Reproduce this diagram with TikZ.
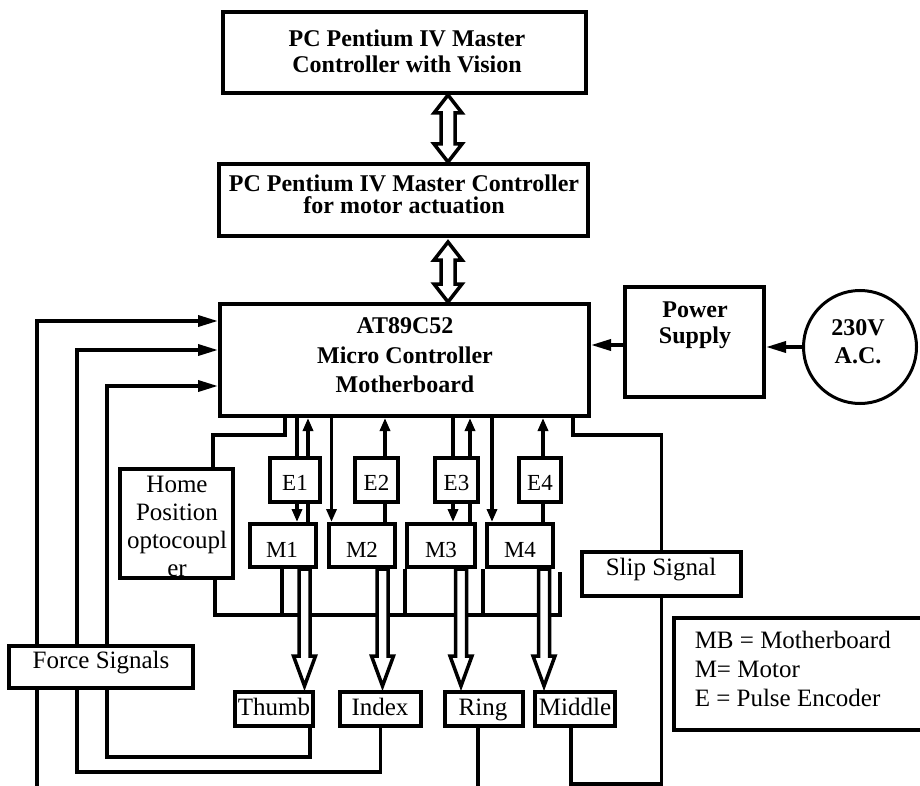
\documentclass[tikz,border=0pt]{standalone}
\usepackage{fontspec}
\setmainfont{Liberation Serif}
\usetikzlibrary{arrows.meta,calc}

% hollow double-headed arrow between two points (vertical)
\newcommand\hollowdouble[2]{%
  \path[hollow] let \p1=(#1), \p2=(#2) in
    (\x1,\y1) -- (\x1+14pt,\y1-18pt) -- (\x1+7pt,\y1-18pt) -- (\x1+7pt,\y2+18pt)
    -- (\x1+14pt,\y2+18pt) -- (\x1,\y2) -- (\x1-14pt,\y2+18pt) -- (\x1-7pt,\y2+18pt)
    -- (\x1-7pt,\y1-18pt) -- (\x1-14pt,\y1-18pt) -- cycle;}
% hollow downward arrow from a motor to a finger
\newcommand\hollowdown[2]{%
  \path[hollow] let \p1=(#1), \p2=(#2) in
    (\x1-5.5pt,\y1) -- (\x1-5.5pt,\y2+34pt) -- (\x1-11pt,\y2+34pt) -- (\x1,\y2+4pt)
    -- (\x1+11pt,\y2+34pt) -- (\x1+5.5pt,\y2+34pt) -- (\x1+5.5pt,\y1) -- cycle;}

\begin{document}
\begin{tikzpicture}[x=1pt,y=-1pt,
  line width=3.5pt,
  box/.style={draw, rectangle, line width=4pt, inner sep=0pt},
  hollow/.style={draw, fill=white, line width=3.5pt},
  btxt/.style={font=\fontsize{24}{28}\selectfont\bfseries, inner sep=0pt, anchor=base},
  rtxt/.style={font=\fontsize{25}{28}\selectfont, inner sep=0pt, anchor=base},
  stxt/.style={font=\fontsize{23}{26}\selectfont, inner sep=0pt, anchor=base},
  arrL/.style={-{Triangle[length=20pt,width=11pt]}},
  arrS/.style={-{Triangle[length=13pt,width=10pt]}}]
\clip (0,0) rectangle (920,786);

% ---- upper controllers ----
\node[box, minimum width=363pt, minimum height=81pt] (pcv) at (404.5,52.5) {};
\node[btxt] (pcv1) at (407,47) {PC Pentium IV Master};
\node[btxt] (pcv2) at (407,73) {Controller with Vision};

\node[box, minimum width=369pt, minimum height=72pt] (pcm) at (403.5,200) {};
\node[btxt] (pcm1) at (404,192) {PC Pentium IV Master Controller};
\node[btxt] (pcm2) at (404,214) {for motor actuation};

% ---- motherboard, supply ----
\node[box, minimum width=369pt, minimum height=112pt] (mb) at (404.5,360) {};
\node[btxt] (mb1) at (405,333) {AT89C52};
\node[btxt] (mb2) at (405,363) {Micro Controller};
\node[btxt] (mb3) at (405,392) {Motherboard};

\node[box, minimum width=139pt, minimum height=110pt] (ps) at (694.5,342) {};
\node[btxt] (ps1) at (695,317) {Power};
\node[btxt] (ps2) at (695,343) {Supply};

\node[draw, circle, line width=3pt, minimum size=113pt, inner sep=0pt] (ac) at (860,347) {};
\node[btxt] (ac1) at (858,335) {230V};
\node[btxt] (ac2) at (858,363) {A.C.};

% ---- encoders and motors ----
\node[box, minimum width=50pt, minimum height=44pt] (e1) at (295,480) {};
\node[box, minimum width=43pt, minimum height=44pt] (e2) at (376.5,480) {};
\node[box, minimum width=43pt, minimum height=44pt] (e3) at (456.5,480) {};
\node[box, minimum width=42pt, minimum height=44pt] (e4) at (540,480) {};
\node[stxt] (e1t) at (295,490) {E1};
\node[stxt] (e2t) at (376.5,490) {E2};
\node[stxt] (e3t) at (456.5,490) {E3};
\node[stxt] (e4t) at (540,490) {E4};

\node[box, minimum width=66pt, minimum height=43pt] (m1) at (283,545.5) {};
\node[box, minimum width=66pt, minimum height=43pt] (m2) at (362,545.5) {};
\node[box, minimum width=68pt, minimum height=43pt] (m3) at (441,545.5) {};
\node[box, minimum width=66pt, minimum height=43pt] (m4) at (520,545.5) {};
\node[stxt] (m1t) at (282,557) {M1};
\node[stxt] (m2t) at (362,557) {M2};
\node[stxt] (m3t) at (441,557) {M3};
\node[stxt] (m4t) at (520,557) {M4};

% ---- home position sensor (label runs past its box) ----
\node[rtxt] (h1) at (177,492) {Home};
\node[rtxt] (h2) at (177,520) {Position};
\node[rtxt] (h3) at (177,548) {optocoupl};
\node[rtxt] (h4) at (177,576) {er};
\node[box, minimum width=113pt, minimum height=109pt] (home) at (176.5,523.5) {};

% ---- fingers, signals, legend ----
\node[box, minimum width=78pt, minimum height=34pt] (thumb) at (274,709) {};
\node[box, minimum width=81pt, minimum height=34pt] (index) at (380.5,709) {};
\node[box, minimum width=78pt, minimum height=34pt] (ring) at (484,709) {};
\node[box, minimum width=80pt, minimum height=34pt] (middle) at (575,709) {};
\node[rtxt] (thumbt) at (274,715) {Thumb};
\node[rtxt] (indext) at (380,715) {Index};
\node[rtxt] (ringt) at (483,715) {Ring};
\node[rtxt] (middlet) at (575,715) {Middle};

\node[box, minimum width=184pt, minimum height=42pt] (fs) at (101,667) {};
\node[rtxt] (fst) at (101,668) {Force Signals};

\node[box, minimum width=159pt, minimum height=44pt] (slip) at (661.5,574) {};
\node[rtxt] (slipt) at (661,575) {Slip Signal};

\node[box, minimum width=264pt, minimum height=112pt] (legend) at (806,674) {};
\node[rtxt, anchor=base west] (lg1) at (693,648) {MB = Motherboard};
\node[rtxt, anchor=base west] (lg2) at (693,677) {M= Motor};
\node[rtxt, anchor=base west] (lg3) at (693,706) {E = Pulse Encoder};

% ---- lane positions ----
\coordinate (fa) at (37,0);
\coordinate (fb) at (77,0);
\coordinate (fc) at (107,0);
\coordinate (l1) at ($(e1.center)+(2,0)$);
\coordinate (l2) at ($(e1.center)+(13,0)$);
\coordinate (l3) at ($(m2.center)+(-30.5,0)$);
\coordinate (l4) at ($(e2.center)+(8.5,0)$);
\coordinate (l5) at ($(e3.center)+(-3.5,0)$);
\coordinate (l6) at ($(e3.center)+(13.5,0)$);
\coordinate (l7) at ($(m4.center)+(-28,0)$);
\coordinate (l8) at ($(e4.center)+(3,0)$);

% ---- force signal feedback ----
\draw[arrL] (fs.north -| fa) |- ($(mb.north west)+(0,19)$);
\draw[arrL] (fs.north -| fb) |- ($(mb.north west)+(0,48)$);
\draw[arrL] (fs.north -| fc) |- ($(mb.north west)+(0,84)$);
\draw (fs.south -| fa) -- ++(0,140);
\draw (fs.south -| fb) |- ($(index.south)+(0,44)$) -- (index.south);
\coordinate (tb) at ($(thumb.south)+(36,0)$);
\draw (fs.south -| fc) |- ($(tb)+(0,29)$) -- (tb);
\draw ($(ring.south)+(-6,0)$) -- ++(0,80);

% ---- slip signal ----
\draw ($(middle.south)+(-4,0)$) -- ++(0,56) -| (slip.south);
\draw (slip.north) |- ($(mb.south)+(168.5,17)$) -- ($(mb.south)+(168.5,0)$);

% ---- power ----
\draw[arrL] (ac.west) -- (ps.east |- ac.west);
\draw[arrL] ($(ps.west)+(0,3)$) -- ($(mb.east)+(0,-15)$);

% ---- home position wiring and common bus ----
\draw ($(home.north)+(36.5,0)$) |- ($(mb.south)+(-119.5,17)$) -- ($(mb.south)+(-119.5,0)$);
\draw ($(home.south)+(38.5,0)$) |- ($(m4.south)+(40,46)$) -- ($(m4.south)+(40,3)$);
\draw ($(m1.south)+(-1,0)$) -- ++(0,46);
\draw (m3.south west) -- ++(0,46);
\draw ($(m4.south west)+(-2,0)$) -- ++(0,46);

% ---- encoder / motor lines ----
\draw (mb.south -| l1) -- (e1.north -| l1);
\draw[arrS] (e1.south -| l1) -- (m1.north -| l1);
\draw (m1.north -| l2) -- (e1.south -| l2);
\draw[arrS] (e1.north -| l2) -- (mb.south -| l2);
\draw[arrS] (mb.south -| l3) -- (m2.north -| l3);
\draw[arrS] (e2.north -| l4) -- (mb.south -| l4);
\draw (e2.south -| l4) -- (m2.north -| l4);
\draw (mb.south -| l5) -- (e3.north -| l5);
\draw[arrS] (e3.south -| l5) -- (m3.north -| l5);
\draw (m3.north -| l6) -- (e3.south -| l6);
\draw[arrS] (e3.north -| l6) -- (mb.south -| l6);
\draw[arrS] (mb.south -| l7) -- (m4.north -| l7);
\draw[arrS] (e4.north -| l8) -- (mb.south -| l8);
\draw (e4.south -| l8) -- (m4.north -| l8);

% ---- hollow data arrows ----
\hollowdouble{$(pcv.south)+(43.5,0)$}{$(pcm.north)+(44.5,0)$}
\hollowdouble{$(pcm.south)+(44.5,4)$}{$(mb.north)+(43.5,0)$}
\hollowdown{$(m1.south)+(21.5,0)$}{thumb.north}
\hollowdown{$(m2.south)+(20.5,0)$}{index.north}
\hollowdown{$(m3.south)+(20,0)$}{ring.north}
\hollowdown{$(m4.south)+(24,0)$}{middle.north}
\end{tikzpicture}
\end{document}
